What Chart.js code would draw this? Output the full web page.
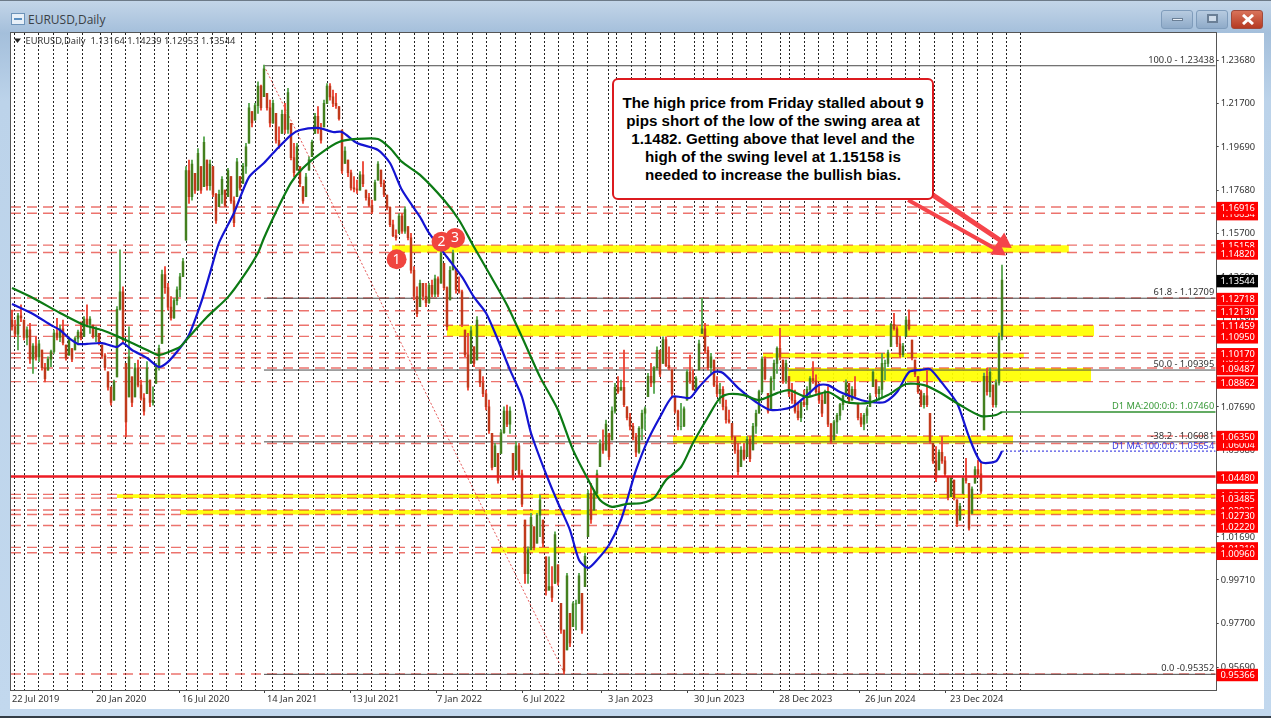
<!DOCTYPE html>
<html><head><meta charset="utf-8"><title>EURUSD,Daily</title>
<script src="https://cdn.jsdelivr.net/npm/chart.js@4"></script>
<style>
html,body{margin:0;padding:0;width:1271px;height:718px;overflow:hidden;background:#b4cde6}
#frame{position:absolute;left:0;top:0;width:1271px;height:718px;background:linear-gradient(#c3d5e8 0,#a4bfdb 32px,#bcd3ea 100px,#c2d8ee 100%);border-top:1px solid #6d7a88;border-bottom:2px solid #333c46;box-sizing:border-box}
#panel{position:absolute;left:10px;top:32px;width:1254px;height:676px;background:#fff}
#title{position:absolute;left:28px;top:10px;font:12px "Open Sans",sans-serif;color:#3a3f45}
#ico{position:absolute;left:11px;top:12px;width:12px;height:10px;background:#e8f0f8;border:1px solid #6d93b8}
#ico i{position:absolute;left:2px;top:4px;width:8px;height:2px;background:#5b8fc0}
.btn{position:absolute;top:9px;height:19px;width:32px;border:1px solid #7f9cbb;border-radius:3px;box-sizing:border-box;background:linear-gradient(#b7cbe0,#8fabc9)}
#bmin{left:1161px}#bmax{left:1196px}#bclose{left:1231px;background:linear-gradient(#d9735a,#b53a22);border-color:#a04a3c}
#bmin i{position:absolute;left:10px;top:7px;width:11px;height:3px;background:#e9eef4;border:1px solid #6a7f96;box-sizing:border-box}
#bmax i{position:absolute;left:10px;top:3px;width:11px;height:9px;border:2px solid #6a7f96;background:#cfdcea;box-sizing:border-box}
#bclose svg{position:absolute;left:10px;top:3px}
#c{position:absolute;left:0;top:0}
#note{position:absolute;left:612px;top:78px;width:322px;height:122px;box-sizing:border-box;background:#fff;border:2px solid #dc1a1f;border-radius:6px;color:#000;font:bold 15.15px/18px "Liberation Sans",Arial,sans-serif;text-align:center;padding-top:14px}
</style></head><body>
<div id="frame"><div id="ico"><i></i></div><div id="title">EURUSD,Daily</div>
<div class="btn" id="bmin"><i></i></div><div class="btn" id="bmax"><i></i></div>
<div class="btn" id="bclose"><svg width="12" height="11"><path d="M1 1L11 10M11 1L1 10" stroke="#fff" stroke-width="3"/></svg></div>
<div id="panel"></div></div>
<canvas id="c" width="1271" height="718"></canvas>
<div id="note">The high price from Friday stalled about 9<br>pips short of the low of the swing area at<br>1.1482. Getting above that level and the<br>high of the swing level at 1.15158 is<br>needed to increase the bullish bias.</div>
<script>
const highs=[1.1216,1.1170,1.1201,1.1240,1.1170,1.1139,1.1155,1.1062,1.1093,1.1078,
1.1032,1.0970,1.1001,1.1032,1.1124,1.1178,1.1147,1.1170,1.1055,1.1093,
1.1039,1.1093,1.1124,1.1162,1.1186,1.1240,1.1186,1.1147,1.1139,1.1109,
1.1055,1.1016,1.0931,1.0862,1.0893,1.1232,1.1494,1.1324,1.0970,1.1139,
1.0908,1.0970,1.0985,1.0893,1.0831,1.0978,1.0893,1.0862,1.0970,1.1055,
1.1401,1.1417,1.1340,1.1278,1.1270,1.1324,1.1386,1.1455,1.1878,1.1909,
1.1909,1.1847,1.1962,1.1878,1.2016,1.1909,1.1909,1.1878,1.1755,1.1770,
1.1832,1.1770,1.1870,1.1832,1.1739,1.1916,1.1832,1.1893,1.1986,1.2170,
1.2132,1.2170,1.2270,1.2255,1.2347,1.2216,1.2185,1.2185,1.2124,1.2062,
1.2139,1.2170,1.2239,1.2078,1.1986,1.1986,1.1878,1.1786,1.1847,1.1924,
1.2001,1.2124,1.2155,1.2078,1.2185,1.2262,1.2262,1.2232,1.2216,1.2155,
1.2047,1.1970,1.1909,1.1862,1.1832,1.1816,1.1855,1.1901,1.1770,1.1755,
1.1724,1.1816,1.1901,1.1862,1.1816,1.1747,1.1693,1.1632,1.1586,1.1662,
1.1662,1.1693,1.1601,1.1570,1.1417,1.1324,1.1355,1.1340,1.1340,1.1340,
1.1355,1.1378,1.1370,1.1493,1.1432,1.1324,1.1417,1.1493,1.1409,1.1370,
1.1309,1.1124,1.1109,1.1140,1.1047,1.1186,1.0940,1.0909,1.0847,1.0801,
1.0647,1.0601,1.0555,1.0663,1.0770,1.0778,1.0770,1.0555,1.0609,1.0601,
1.0478,1.0247,1.0124,1.0278,1.0216,1.0278,1.0363,1.0247,1.0078,1.0078,
1.0032,1.0193,1.0040,0.9863,0.9740,1.0001,0.9817,0.9870,0.9878,1.0001,
0.9909,1.0094,1.0386,1.0417,1.0386,1.0478,1.0617,1.0663,1.0709,1.0647,
1.0770,1.0878,1.0909,1.0893,1.1032,1.0770,1.0740,1.0693,1.0647,1.0678,
1.0755,1.0770,1.0924,1.0970,1.0955,1.1047,1.1032,1.1093,1.1093,1.1047,
1.0940,1.0817,1.0755,1.0786,1.0770,1.0940,1.1009,1.0940,1.0909,1.1078,
1.1270,1.1155,1.1047,1.1017,1.0986,1.0909,1.0878,1.0863,1.0801,1.0755,
1.0694,1.0632,1.0601,1.0586,1.0601,1.0632,1.0632,1.0694,1.0755,1.0847,
1.1001,1.1001,1.0832,1.0909,1.0986,1.1047,1.1132,1.0986,1.0986,1.0909,
1.0878,1.0847,1.0786,1.0801,1.0847,1.0863,1.0909,1.0978,1.0917,1.0878,
1.0832,1.0847,1.0863,1.0694,1.0709,1.0740,1.0786,1.0824,1.0894,1.0878,
1.0863,1.0909,1.0786,1.0740,1.0740,1.0770,1.0832,1.0940,1.0894,1.0863,
1.1017,1.0986,1.1032,1.1155,1.1201,1.1140,1.1094,1.1063,1.1186,1.1217,
1.1078,1.0986,1.0909,1.0847,1.0832,1.0940,1.0740,1.0601,1.0586,1.0571,
1.0632,1.0540,1.0448,1.0448,1.0432,1.0340,1.0324,1.0448,1.0532,1.0417,
1.0401,1.0494,1.0524,1.0517,1.0926,1.0949,1.0949,1.0870,1.0894,1.1110,1.14239];
const lows=[1.1124,1.1093,1.1032,1.1163,1.1078,1.1055,1.0970,1.0924,1.0985,1.0978,
1.0939,1.0885,1.0939,1.0955,1.1016,1.1078,1.1070,1.1055,1.0985,1.1008,
1.0978,1.1032,1.1055,1.1078,1.1093,1.1139,1.1109,1.1086,1.1070,1.1055,
1.0993,1.0939,1.0847,1.0777,1.0801,1.0908,1.1216,1.1062,1.0631,1.0816,
1.0770,1.0816,1.0862,1.0801,1.0731,1.0831,1.0770,1.0777,1.0878,1.0939,
1.1062,1.1293,1.1216,1.1170,1.1178,1.1240,1.1278,1.1370,1.1539,1.1709,
1.1724,1.1755,1.1770,1.1755,1.1786,1.1770,1.1770,1.1739,1.1616,1.1693,
1.1709,1.1693,1.1739,1.1709,1.1601,1.1739,1.1770,1.1801,1.1847,1.1986,
1.2062,1.2093,1.2124,1.2139,1.2201,1.2139,1.2062,1.2078,1.1986,1.1962,
1.2032,1.2032,1.2032,1.1909,1.1832,1.1862,1.1786,1.1709,1.1739,1.1862,
1.1924,1.2032,1.2032,1.1986,1.2062,1.2170,1.2185,1.2155,1.2147,1.2093,
1.1847,1.1893,1.1832,1.1770,1.1762,1.1755,1.1770,1.1786,1.1724,1.1693,
1.1662,1.1724,1.1816,1.1786,1.1739,1.1678,1.1601,1.1555,1.1539,1.1570,
1.1570,1.1570,1.1540,1.1386,1.1263,1.1186,1.1232,1.1263,1.1232,1.1247,
1.1278,1.1278,1.1278,1.1340,1.1309,1.1124,1.1263,1.1401,1.1294,1.1294,
1.1140,1.1001,1.0847,1.0970,1.0955,1.0986,1.0863,1.0817,1.0755,1.0647,
1.0478,1.0494,1.0417,1.0555,1.0647,1.0678,1.0647,1.0432,1.0478,1.0447,
1.0309,0.9955,0.9955,1.0109,1.0109,1.0140,1.0171,1.0124,0.9901,0.9924,
0.9870,0.9955,0.9947,0.9724,0.9536,0.9648,0.9663,0.9755,0.9740,0.9863,
0.9724,0.9940,1.0171,1.0232,1.0293,1.0370,1.0494,1.0555,1.0570,1.0525,
1.0617,1.0740,1.0832,1.0847,1.0770,1.0709,1.0663,1.0617,1.0540,1.0555,
1.0617,1.0663,1.0817,1.0863,1.0832,1.0940,1.0909,1.0970,1.0955,1.0940,
1.0817,1.0740,1.0663,1.0663,1.0678,1.0801,1.0878,1.0847,1.0847,1.0940,
1.1109,1.1017,1.0940,1.0924,1.0863,1.0817,1.0786,1.0755,1.0694,1.0694,
1.0617,1.0555,1.0455,1.0494,1.0524,1.0540,1.0517,1.0571,1.0647,1.0740,
1.0832,1.0894,1.0740,1.0755,1.0847,1.0924,1.0986,1.0878,1.0878,1.0817,
1.0786,1.0740,1.0709,1.0701,1.0770,1.0755,1.0817,1.0878,1.0832,1.0786,
1.0724,1.0786,1.0678,1.0601,1.0617,1.0647,1.0709,1.0755,1.0817,1.0786,
1.0801,1.0817,1.0709,1.0678,1.0663,1.0694,1.0770,1.0863,1.0817,1.0801,
1.0817,1.0894,1.0955,1.1047,1.1124,1.1047,1.1001,1.1001,1.1094,1.1124,
1.0986,1.0909,1.0832,1.0770,1.0763,1.0770,1.0601,1.0509,1.0424,1.0478,
1.0509,1.0448,1.0340,1.0355,1.0340,1.0217,1.0247,1.0370,1.0417,1.0201,
1.0278,1.0417,1.0448,1.0370,1.0663,1.0824,1.0815,1.0768,1.0768,1.0870,1.1078];
const closes=[1.1140,1.1105,1.1190,1.1180,1.1090,1.1125,1.0990,1.1050,1.1000,1.1060,
1.0950,1.0900,1.0990,1.1025,1.1110,1.1090,1.1130,1.1065,1.0995,1.1080,
1.0990,1.1085,1.1115,1.1090,1.1175,1.1150,1.1175,1.1095,1.1125,1.1065,
1.1005,1.0950,1.0860,1.0790,1.0885,1.1220,1.1300,1.1080,1.0700,1.1000,
1.0790,1.0950,1.0870,1.0810,1.0750,1.0950,1.0790,1.0800,1.0950,1.1040,
1.1380,1.1320,1.1230,1.1180,1.1260,1.1310,1.1370,1.1440,1.1860,1.1740,
1.1890,1.1770,1.1940,1.1770,1.1990,1.1790,1.1890,1.1750,1.1630,1.1750,
1.1820,1.1700,1.1860,1.1720,1.1620,1.1900,1.1780,1.1880,1.1970,1.2150,
1.2080,1.2160,1.2250,1.2150,1.2330,1.2150,1.2080,1.2170,1.2000,1.1975,
1.2120,1.2050,1.2220,1.1920,1.1850,1.1970,1.1800,1.1720,1.1830,1.1910,
1.1990,1.2110,1.2050,1.2000,1.2170,1.2250,1.2200,1.2170,1.2160,1.2100,
1.1860,1.1950,1.1850,1.1780,1.1775,1.1770,1.1840,1.1800,1.1735,1.1700,
1.1670,1.1805,1.1890,1.1800,1.1750,1.1690,1.1610,1.1560,1.1550,1.1650,
1.1580,1.1680,1.1550,1.1400,1.1280,1.1200,1.1340,1.1280,1.1250,1.1330,
1.1290,1.1360,1.1290,1.1480,1.1320,1.1140,1.1400,1.1480,1.1310,1.1300,
1.1150,1.1010,1.0860,1.1120,1.0970,1.1170,1.0880,1.0830,1.0770,1.0660,
1.0490,1.0590,1.0430,1.0650,1.0750,1.0690,1.0750,1.0450,1.0590,1.0460,
1.0320,1.0000,1.0110,1.0260,1.0120,1.0270,1.0340,1.0140,0.9920,0.9940,
0.9890,1.0180,0.9960,0.9740,0.9550,0.9990,0.9680,0.9860,0.9860,0.9990,
0.9740,1.0080,1.0370,1.0250,1.0370,1.0460,1.0600,1.0570,1.0690,1.0540,
1.0750,1.0860,1.0840,1.0860,1.0780,1.0720,1.0680,1.0630,1.0560,1.0670,
1.0740,1.0760,1.0910,1.0880,1.0950,1.1030,1.0920,1.1080,1.0960,1.0950,
1.0830,1.0750,1.0680,1.0680,1.0760,1.0930,1.0890,1.0850,1.0900,1.1060,
1.1130,1.1030,1.0950,1.1000,1.0870,1.0830,1.0850,1.0770,1.0710,1.0700,
1.0630,1.0570,1.0470,1.0570,1.0530,1.0620,1.0530,1.0680,1.0740,1.0840,
1.0990,1.0900,1.0750,1.0900,1.0970,1.1040,1.1000,1.0890,1.0970,1.0830,
1.0800,1.0750,1.0720,1.0790,1.0780,1.0850,1.0900,1.0890,1.0840,1.0800,
1.0740,1.0840,1.0690,1.0610,1.0700,1.0730,1.0780,1.0820,1.0880,1.0800,
1.0850,1.0820,1.0720,1.0690,1.0730,1.0760,1.0820,1.0930,1.0830,1.0850,
1.0970,1.0970,1.1020,1.1150,1.1130,1.1060,1.1010,1.1050,1.1170,1.1130,
1.0995,1.0920,1.0840,1.0780,1.0820,1.0780,1.0610,1.0520,1.0440,1.0560,
1.0520,1.0460,1.0350,1.0440,1.0350,1.0230,1.0310,1.0440,1.0430,1.0210,
1.0390,1.0480,1.0460,1.0380,1.0910,1.0840,1.0930,1.0780,1.0880,1.1095,1.13544];
const firstOpen=1.1170;
const blueX=[0,7,13,16,19,22,25,30,35,37,40,45,49,52,56,59,63,66,69,74,79,84,88,93,96,102,107,110,115,122,126,130,136,139,145,150,154,158,162,166,170,173,178,182,186,189,192,195,199,203,206,208,212,216,220,223,226,229,234,237,242,248,253,260,265,269,272,276,282,286,291,295,299,303,306,310,315,319,323,328,330];
const blueMA=[1.1244,1.1198,1.1147,1.1124,1.1087,1.1060,1.1060,1.1064,1.1046,1.1064,1.1032,1.0995,1.0954,1.0977,1.1041,1.1101,1.1249,1.1387,1.1526,1.1664,1.1830,1.1895,1.1955,1.2024,1.2047,1.2057,1.2038,1.2038,1.1987,1.1955,1.1895,1.1770,1.1646,1.1572,1.1461,1.1369,1.1276,1.1203,1.1078,1.0940,1.0815,1.0649,1.0460,1.0326,1.0201,1.0063,1.0026,1.0063,1.0132,1.0248,1.0386,1.0478,1.0617,1.0723,1.0815,1.0815,1.0811,1.0861,1.0930,1.0926,1.0857,1.0792,1.0755,1.0769,1.0824,1.0870,1.0870,1.0838,1.0806,1.0792,1.0792,1.0838,1.0930,1.0940,1.0944,1.0880,1.0787,1.0631,1.0515,1.0519,1.05654];
const greenX=[0,7,16,24,30,35,40,45,49,53,56,59,65,72,77,82,84,88,93,97,103,109,115,122,126,130,136,144,149,154,159,165,170,176,182,187,192,196,200,205,210,214,218,223,227,232,236,239,244,249,255,259,265,272,278,285,292,298,304,309,316,323,328,330];
const greenMA=[1.1318,1.1272,1.1203,1.1147,1.1124,1.1096,1.1064,1.1032,1.1009,1.1027,1.1046,1.1092,1.1184,1.1276,1.1369,1.1480,1.1549,1.1669,1.1803,1.1872,1.1941,1.1992,1.2006,1.2006,1.1964,1.1900,1.1840,1.1724,1.1632,1.1507,1.1387,1.1240,1.1092,1.0908,1.0755,1.0571,1.0435,1.0340,1.0308,1.0322,1.0326,1.0349,1.0432,1.0492,1.0603,1.0723,1.0811,1.0829,1.0824,1.0801,1.0833,1.0847,1.0815,1.0838,1.0792,1.0787,1.0824,1.0875,1.0870,1.0838,1.0778,1.0727,1.0732,1.0746];
const maLast200=1.0746, maLast100=1.05654, lastBar=330;
const dashedLevels=[1.16916,1.16634,1.15158,1.1482,1.12718,1.1213,1.11459,1.1095,1.1017,1.09959,1.09487,1.08862,1.0635,1.06004,1.03657,1.03485,1.02935,1.0273,1.0222,1.0121,1.0096,0.95366];
const solidLevel=1.0448;
const fibLevels=[1.23438,1.12709,1.09395,1.06081,0.95352];
const fibTexts=["100.0 - 1.23438","61.8 - 1.12709","50.0 - 1.09395","-38.2 - 1.06081","0.0 -0.95352"];
const fibStart=84, swingHighBar=84, swingLowBar=184.3;
const zoneStart=[126.7,145,250.3,258.7,220.3,35,56,160];
const zoneEnd=[352.3,360.7,337.3,359.7,333.7,402,402,402];
const zoneHigh=[1.15158,1.11459,1.1017,1.09487,1.0635,1.03657,1.02935,1.0121];
const zoneLow=[1.1482,1.1095,1.09959,1.08862,1.06004,1.03485,1.0273,1.0096];
const yTicks=[1.2368,1.217,1.1969,1.1768,1.157,1.1369,1.1168,1.0969,1.0769,1.0568,1.0367,1.0169,0.9971,0.977,0.9569];
const redTags=[1.16634,1.16916,1.15158,1.1482,1.12718,1.1213,1.11459,1.1095,1.09959,1.1017,1.09487,1.08862,1.06004,1.0635,1.0448,1.03657,1.03485,1.02935,1.0273,1.0222,1.0121,1.0096,0.95366];
const lastPrice=1.13544;
const dateLabels=["22 Jul 2019","20 Jan 2020","16 Jul 2020","14 Jan 2021","13 Jul 2021","7 Jan 2022","6 Jul 2022","3 Jan 2023","30 Jun 2023","28 Dec 2023","26 Jun 2024","23 Dec 2024"];
const dateBars=[0,28,56.7,85,113.3,141.7,170.3,198.7,227.3,255.7,284.3,312.7];
const gridBars=[1.8,6.6,11.4,16.2,21,25.9,30.7,35.5,40.3,45.1,49.9,54.7,59.5,64.4,69.2,74,78.8,83.6,88.4,93.2,98,102.9,107.7,112.5,117.3,122.1,126.9,131.7,136.5,141.4,146.2,151,155.8,160.6,165.4,170.2,175.1,179.9,184.7,189.5,194.3,199.1,203.9,208.8,213.6,218.4,223.2,228,232.8,237.6,242.4,247.3,252.1,256.9,261.7,266.5,271.3,276.1,280.9,285.8,290.6,295.4,300.2,305,309.8,314.6,319.4,324.3,329.1,333.9];
const arrowA={x:[307,330.5],y:[1.1747,1.1528]}, arrowB={x:[298.7,328.8],y:[1.1724,1.1491]};
const circleX=[128.2,143.2,147.7], circleY=[1.1451,1.1532,1.1549], circleText=["1","2","3"];
const header="EURUSD,Daily  1.13164 1.14239 1.12953 1.13544";
const xMin=-0.33,xMax=401.23,yMin=0.94629,yMax=1.24949;

const F='"Noto Sans",sans-serif';
const idx=highs.map((_,i)=>i);
const opens=closes.map((c,i)=>{const p=i?closes[i-1]:firstOpen;return Math.min(highs[i],Math.max(lows[i],p));});
const upC='#44801f',dnC='#c03a1c',upW='#5aa852',dnW='#ec4636';
const hline=(y,color,w,dash,order,x0,x1)=>({type:'line',data:[{x:x0===undefined?xMin:x0,y},{x:x1===undefined?xMax:x1,y}],borderColor:color,borderWidth:w,borderDash:dash||[],pointRadius:0,order});
const series=[];
zoneHigh.forEach((h,i)=>series.push({type:'line',data:[{x:zoneStart[i],y:h},{x:zoneEnd[i],y:h}],borderWidth:0,pointRadius:0,backgroundColor:'rgba(255,255,0,0.93)',fill:{value:zoneLow[i]},order:20}));
dashedLevels.forEach(v=>series.push(hline(v,'rgba(226,40,30,0.65)',1.4,[10,6],15)));
fibLevels.forEach(v=>series.push(hline(v,'#4a4a4a',1,[],14,fibStart)));
series.push({type:'line',data:[{x:swingHighBar,y:fibLevels[0]},{x:swingLowBar,y:fibLevels[4]}],borderColor:'rgba(225,70,70,0.9)',borderWidth:1,borderDash:[2,2],pointRadius:0,order:13});
series.push({type:'bar',data:idx.map(i=>({x:i,y:[lows[i],highs[i]]})),barThickness:1.2,grouped:false,backgroundColor:idx.map(i=>closes[i]>=opens[i]?upW:dnW),order:8});
series.push({type:'bar',data:idx.map(i=>({x:i,y:[Math.min(opens[i],closes[i]),Math.max(opens[i],closes[i])]})),barThickness:1.8,grouped:false,backgroundColor:idx.map(i=>closes[i]>=opens[i]?upC:dnC),order:7});
series.push(hline(solidLevel,'#ee1c25',2.5,[],5));
series.push({type:'line',data:blueX.map((x,i)=>({x,y:blueMA[i]})),borderColor:'#1414d2',borderWidth:2.2,tension:0.25,pointRadius:0,order:4});
series.push({type:'line',data:greenX.map((x,i)=>({x,y:greenMA[i]})),borderColor:'#0c7a14',borderWidth:2.2,tension:0.25,pointRadius:0,order:3});
series.push(hline(maLast100,'#2222dd',1,[2,2],4,lastBar));
series.push(hline(maLast200,'#2f8f2f',1.5,[],3,lastBar));
[arrowA,arrowB].forEach((a,n)=>series.push({type:'line',data:a.x.map((x,i)=>({x,y:a.y[i]})),borderColor:'#f5444a',borderWidth:n?4:5,pointStyle:'triangle',pointRadius:[0,n?9:10],pointRotation:124,pointBackgroundColor:'#f5444a',pointBorderWidth:0,order:2}));
const circleDs={type:'line',showLine:false,data:circleX.map((x,i)=>({x,y:circleY[i]})),pointRadius:10,pointBackgroundColor:'#f0453f',pointBorderWidth:0,order:1};
series.push(circleDs);

const texts={id:'texts',
beforeDatasetsDraw(c){const a=c.chartArea,g=c.ctx;g.save();g.strokeStyle='#555';g.lineWidth=1;g.strokeRect(Math.round(a.left)-.5,Math.round(a.top)-.5,Math.round(a.right-a.left)+1,Math.round(a.bottom-a.top)+1);g.restore();},
afterDraw(c){const g=c.ctx,y=c.scales.y,a=c.chartArea;g.save();
g.font='9.3px '+F;g.textBaseline='middle';
const T=(t,v,color,off)=>{g.fillStyle=color;g.textAlign='right';g.fillText(t,a.right-1.5,y.getPixelForValue(v)-off);};
fibTexts.forEach((t,i)=>T(t,fibLevels[i],'#333',5.5));
T('D1 MA:200:0:0: 1.07460',maLast200,'#3a9a3a',5.5);
T('D1 MA:100:0:0: 1.05654',maLast100,'#3838dd',5);
g.textAlign='left';
const tag=(v,bg)=>{const p=y.getPixelForValue(v)+1;g.fillStyle=bg;g.fillRect(1216.5,p-6.2,41.5,12.4);g.fillStyle='#fff';g.fillText(v.toFixed(5),1220.5,p+.5);};
redTags.forEach(v=>tag(v,'#f00'));
tag(lastPrice,'#000');
g.fillStyle='#222';g.beginPath();g.moveTo(14,38.5);g.lineTo(21,38.5);g.lineTo(17.5,43);g.closePath();g.fill();
g.fillStyle='#333';g.fillText(header,25.5,41);
const m=c.getDatasetMeta(c.data.datasets.indexOf(circleDs));
g.font='14px '+F;g.textAlign='center';g.fillStyle='#fff';
m.data.forEach((e,i)=>g.fillText(circleText[i],e.x,e.y+.5));
g.restore();}};

new Chart(document.getElementById('c'),{type:'bar',data:{datasets:series},plugins:[texts],options:{
responsive:false,animation:false,events:[],
layout:{padding:{left:11,top:33,right:0,bottom:0}},
plugins:{legend:{display:false},tooltip:{enabled:false}},
scales:{
x:{type:'linear',min:xMin,max:xMax,offset:false,
 afterBuildTicks(s){const t=gridBars.map(v=>({value:v})).concat(dateBars.map(v=>({value:v})));t.sort((p,q)=>p.value-q.value);s.ticks=t;},
 afterFit(s){s.height=28;},
 grid:{color:ctx=>dateBars.includes(ctx.tick&&ctx.tick.value)?'rgba(0,0,0,0)':'#222',lineWidth:1,drawTicks:true,tickLength:3,tickColor:ctx=>dateBars.includes(ctx.tick&&ctx.tick.value)?'#444':'rgba(0,0,0,0)'},
 border:{display:false,dash:[2,2]},
 ticks:{autoSkip:false,maxRotation:0,align:'start',padding:1,color:'#333',font:{family:F,size:9.3},callback(v){const i=dateBars.indexOf(v);return i<0?'':dateLabels[i];}}},
y:{type:'linear',position:'right',min:yMin,max:yMax,
 afterBuildTicks(s){s.ticks=yTicks.map(v=>({value:v}));},
 afterFit(s){s.width=55.3;},
 grid:{drawOnChartArea:false,drawTicks:true,tickLength:3,color:'#444'},
 border:{display:false},
 ticks:{autoSkip:false,padding:2,color:'#333',font:{family:F,size:9.3},callback:v=>v.toFixed(5)}}
}}});
</script></body></html>
